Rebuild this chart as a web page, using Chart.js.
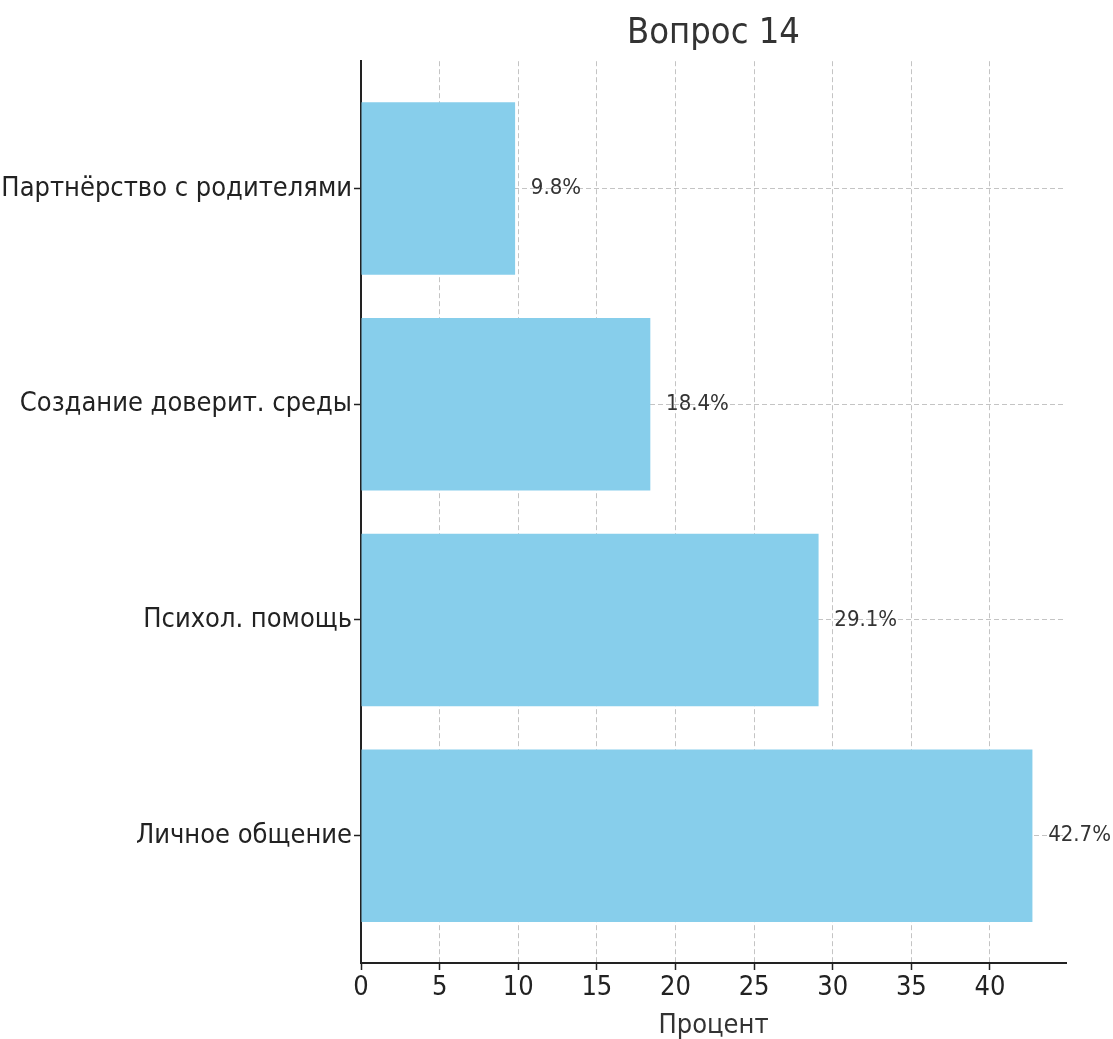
<!DOCTYPE html>
<html>
<head>
<meta charset="utf-8">
<script src="https://cdn.jsdelivr.net/npm/chart.js@4/dist/chart.umd.min.js"></script>
<style>
  body { margin: 0; background: #fff; }
  #wrap { width: 1113px; height: 1039px; position: relative; }
</style>
</head>
<body>
<div id="wrap"><canvas id="chart"></canvas></div>
<script>
const categories = ["Партнёрство с родителями", "Создание доверит. среды", "Психол. помощь", "Личное общение"];
const percents = [9.8, 18.4, 29.1, 42.7];
const xTicks = [0, 5, 10, 15, 20, 25, 30, 35, 40];

const FONT = "'DejaVu Sans Condensed', 'DejaVu Sans', sans-serif";

// value labels to the right of each bar
const valueLabels = {
    id: "valueLabels",
    afterDatasetsDraw(chart) {
        const ctx = chart.ctx;
        const xs = chart.scales.x;
        const ys = chart.scales.y;
        ctx.save();
        ctx.font = "22px " + FONT;
        ctx.fillStyle = "#333";
        ctx.textAlign = "left";
        ctx.textBaseline = "middle";
        percents.forEach((v, i) => {
            ctx.fillText(v.toFixed(1) + "%", xs.getPixelForValue(v + 1), ys.getPixelForValue(i));
        });
        ctx.restore();
    }
};

const gridStyle = {
    color: "rgba(176,176,176,0.75)",
    lineWidth: 1,
    offset: false,
    tickLength: 7,
    tickColor: "#222",
    tickBorderDash: [],
    tickWidth: 1.5
};

new Chart(document.getElementById("chart"), {
    type: "bar",
    data: {
        datasets: [{
            data: percents.map((v, i) => ({ x: v, y: i })),
            backgroundColor: "#87CEEB",
            borderWidth: 0,
            barPercentage: 0.8,
            categoryPercentage: 1
        }]
    },
    options: {
        indexAxis: "y",
        responsive: true,
        maintainAspectRatio: false,
        animation: false,
        layout: { padding: { left: 0, right: 47, top: 0, bottom: 0 } },
        plugins: {
            legend: { display: false },
            tooltip: { enabled: false },
            title: {
                display: true,
                fullSize: false,
                text: "Вопрос 14",
                color: "#333",
                font: { family: FONT, size: 36, weight: "normal" },
                padding: { top: 12, bottom: 6 }
            }
        },
        scales: {
            x: {
                type: "linear",
                min: 0,
                max: 44.835,
                afterBuildTicks: s => { s.ticks = xTicks.map(v => ({ value: v })); },
                afterFit: s => { s.height = 76; },
                ticks: {
                    color: "#222",
                    font: { family: FONT, size: 27 },
                    padding: 2,
                    maxRotation: 0
                },
                grid: gridStyle,
                border: { display: true, color: "#222", width: 2, dash: [5, 3] },
                title: {
                    display: true,
                    text: "Процент",
                    color: "#333",
                    font: { family: FONT, size: 27, lineHeight: 1 },
                    padding: { top: 0, bottom: 0 }
                }
            },
            y: {
                type: "linear",
                min: -0.59,
                max: 3.59,
                reverse: true,
                offset: false,
                afterBuildTicks: s => { s.ticks = categories.map((c, i) => ({ value: i })); },
                afterFit: s => { s.width = 361; },
                ticks: {
                    color: "#222",
                    font: { family: FONT, size: 27 },
                    padding: 2,
                    callback: v => categories[v]
                },
                grid: gridStyle,
                border: { display: true, color: "#222", width: 2, dash: [5, 3] }
            }
        }
    },
    plugins: [valueLabels]
});
</script>
</body>
</html>
